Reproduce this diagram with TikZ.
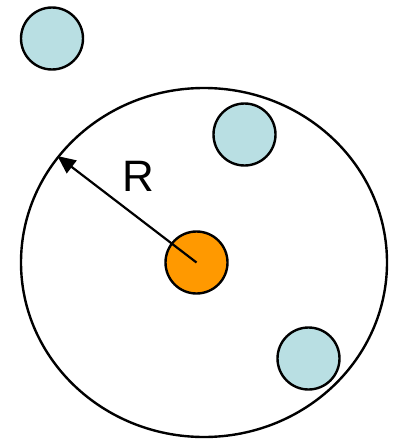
\documentclass[tikz,border=0pt]{standalone}
\definecolor{PlanetBlue}{RGB}{185,223,227}
\definecolor{StarOrange}{RGB}{255,153,0}
\usepackage{fontspec}
\setmainfont{Liberation Sans}
\usepackage{tikz}
\usetikzlibrary{arrows.meta,shapes.geometric}

\begin{document}
\begin{tikzpicture}[x=1pt, y=-1pt,
    body/.style={circle, draw=black, line width=2.4pt, minimum size=62pt, inner sep=0pt},
    planet/.style={body, fill=PlanetBlue},
    star/.style={body, fill=StarOrange}]
    \useasboundingbox (0,0) rectangle (398,439);
    \node[ellipse, draw=black, line width=2.4pt, minimum width=366pt, minimum height=349pt, inner sep=0pt] (range) at (204, 262.5) {};
    \node[planet] (far) at (52, 38.5) {};
    \node[planet] (nearA) at (244.5, 134.5) {};
    \node[planet] (nearB) at (308.5, 358.5) {};
    \node[star] (core) at (196.5, 262.5) {};
    \draw[line width=2.2pt, -{Triangle[length=18pt, width=16pt]}] (core.center) -- (range.144);
    \node[font=\fontsize{44}{50}\selectfont] (rlabel) at (138, 176) {R};
\end{tikzpicture}
\end{document}
